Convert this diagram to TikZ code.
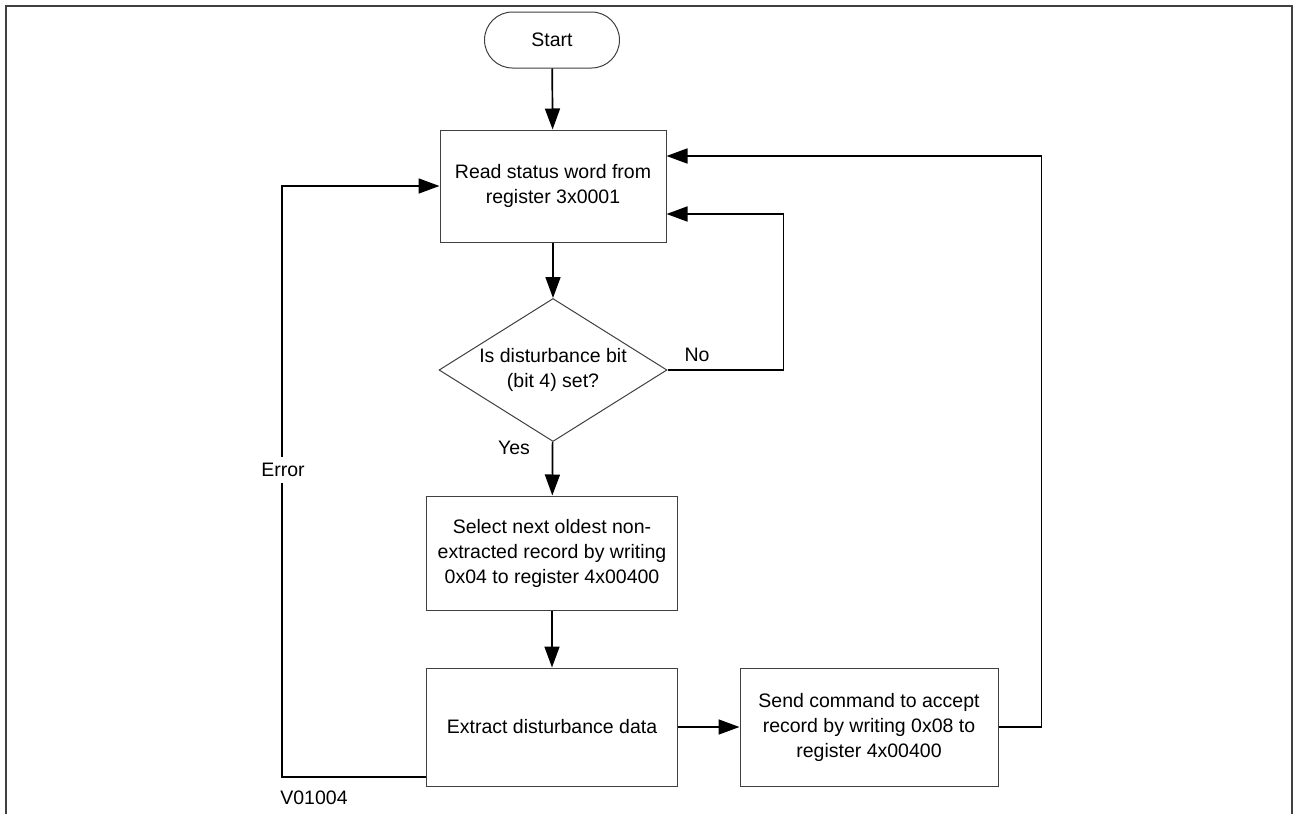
\documentclass[tikz,border=0pt]{standalone}
\usepackage{fontspec}
\setmainfont{Liberation Sans}
\usetikzlibrary{shapes.geometric,arrows.meta}
\begin{document}
\begin{tikzpicture}[x=1pt,y=-1pt,
  box/.style={draw=black!75, line width=1pt, align=center, font=\fontsize{19.5}{25}\selectfont, inner sep=0pt},
  conn/.style={line width=1.7pt, -{Triangle[length=21pt,width=15pt]}},
  lbl/.style={font=\fontsize{19.5}{23}\selectfont, inner sep=1pt}]
\useasboundingbox (0,0) rectangle (1294,814);
\clip (0,0) rectangle (1294,814);
\fill[white] (0,0) rectangle (1294,814);
\draw[black!75, line width=2pt] (6,830) -- (6,6) -- (1292,6) -- (1292,830);

\node[box, rounded corners=28pt, minimum width=135pt, minimum height=56pt] (start) at (552,40) {Start};
\node[box, minimum width=226pt, minimum height=112pt] (read) at (553,186) {Read status word from\\register 3x0001};
\node[box, shape=diamond, aspect=1.6, minimum width=228pt, minimum height=143pt] (dec) at (553,370) {Is disturbance bit\\(bit 4) set?};
\node[box, minimum width=251pt, minimum height=114pt] (sel) at (552,553) {Select next oldest non-\\extracted record by writing\\0x04 to register 4x00400};
\node[box, minimum width=251pt, minimum height=118pt] (ext) at (552,727) {Extract disturbance data};
\node[box, minimum width=258pt, minimum height=118pt] (send) at (869,727) {Send command to accept\\record by writing 0x08 to\\register 4x00400};

\draw[conn] (start) -- (read);
\draw[conn] (read) -- (dec);
\draw[conn] (dec) -- (sel);
\draw[conn] (sel) -- (ext);
\draw[conn] (ext) -- (send);
\draw[conn] (dec.east) -- ++(116,0) |- ([yshift=-28pt]read.east);
\draw[conn] (send.east) -- ++(43,0) |- ([yshift=30pt]read.east);
\draw[conn] ([yshift=-50pt]ext.west) -- ++(-144,0) |- (read.west);

\node[lbl] (no) at (697,355) {No};
\node[lbl] (yes) at (514,448) {Yes};
\node[lbl, fill=white, inner sep=6pt] (err) at (283,470) {Error};
\node[lbl] (vid) at (314,798) {V01004};
\end{tikzpicture}
\end{document}
